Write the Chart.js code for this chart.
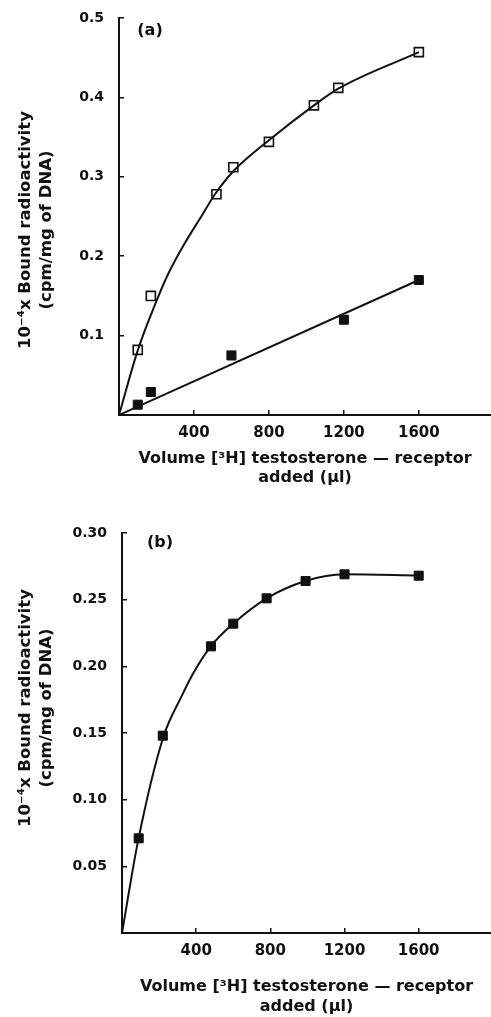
<!DOCTYPE html>
<html><head><meta charset="utf-8">
<script src="https://cdn.jsdelivr.net/npm/chart.js@4.4.0/dist/chart.umd.min.js"></script>
<style>
html,body{margin:0;padding:0;background:#fff;}
canvas{display:block;position:absolute;left:0;}
#ca{top:0;} #cb{top:500px;}
</style></head><body>
<canvas id="ca" width="491" height="500"></canvas>
<canvas id="cb" width="491" height="517"></canvas>
<script>
// ---- Panel (a) data ----
const aOpenX   = [100, 170, 520, 610, 800, 1040, 1170, 1600];
const aOpenY   = [0.082, 0.150, 0.278, 0.312, 0.344, 0.390, 0.412, 0.457];
const aFilledX = [100, 170, 600, 1200, 1600];
const aFilledY = [0.013, 0.029, 0.075, 0.120, 0.170];
// curve drawn through the open squares
const aCurveX  = [0, 101, 199, 261, 350, 439, 512, 610, 800, 1040, 1170, 1600];
const aCurveY  = [0, 0.082, 0.143, 0.177, 0.216, 0.250, 0.278, 0.307, 0.346, 0.390, 0.411, 0.457];
// straight line through the filled squares
const aLineX   = [0, 1600];
const aLineY   = [0, 0.170];
// ---- Panel (b) data ----
const bX = [90, 220, 480, 600, 780, 990, 1200, 1600];
const bY = [0.071, 0.148, 0.215, 0.232, 0.251, 0.264, 0.269, 0.268];
// curve through the (b) squares
const bCurveX = [0, 88, 223, 323, 385, 479, 600, 780, 990, 1200, 1600];
const bCurveY = [0, 0.070, 0.147, 0.178, 0.195, 0.215, 0.232, 0.251, 0.264, 0.269, 0.268];
// ---- ticks / labels ----
const xTickValues = [0, 400, 800, 1200, 1600];
const aYTickValues = [0, 0.1, 0.2, 0.3, 0.4, 0.5];
const bYTickValues = [0, 0.05, 0.10, 0.15, 0.20, 0.25, 0.30];
const xTitle = ['Volume [\u00B3H] testosterone \u2014 receptor', 'added (\u03BCl)'];
const yTitle = ['10\u207B\u2074x Bound radioactivity', '(cpm/mg of DNA)'];

const INK = '#111';
const FONT = "'DejaVu Sans', sans-serif";

function pts(xs, ys) { return xs.map((x, i) => ({x: x, y: ys[i]})); }

function annot(label, lx, ly, titleDy) {
  return {
    id: 'annot',
    afterDraw(chart) {
      const {ctx, chartArea} = chart;
      ctx.save();
      ctx.fillStyle = INK;
      ctx.font = 'bold 16px ' + FONT;
      ctx.textAlign = 'center';
      ctx.textBaseline = 'middle';
      ctx.fillText(label, chartArea.left + lx, chartArea.top + ly);
      ctx.font = 'bold 16.5px ' + FONT;
      ctx.translate(0, chartArea.top + titleDy);
      ctx.rotate(-Math.PI / 2);
      ctx.fillText(yTitle[0], 0, 26);
      ctx.fillText(yTitle[1], 0, 47);
      ctx.restore();
    }
  };
}

function makeChart(id, o) {
  return new Chart(document.getElementById(id), {
    type: 'scatter',
    data: {datasets: o.datasets},
    options: {
      responsive: false, animation: false, devicePixelRatio: 1,
      layout: {autoPadding: false, padding: {top: o.padTop, left: 0, right: 0, bottom: o.padBottom}},
      plugins: {legend: {display: false}, tooltip: {enabled: false}},
      scales: {
        x: {
          type: 'linear', position: 'bottom', min: 0, max: o.xMax,
          afterBuildTicks: s => { s.ticks = xTickValues.map(v => ({value: v})); },
          afterFit: s => { s.height = o.xHeight; s.paddingLeft = 0; s.paddingRight = 0; },
          grid: {drawOnChartArea: false, drawTicks: true, tickLength: -5, color: INK, lineWidth: 1.5},
          border: {display: true, color: INK, width: 2},
          ticks: {padding: 14, color: INK, autoSkip: false, maxRotation: 0,
                  font: {family: FONT, weight: 'bold', size: 15},
                  callback: v => v === 0 ? '' : String(v)},
          title: {display: true, text: xTitle, color: INK, padding: 0,
                  font: {family: FONT, weight: 'bold', size: 16, lineHeight: o.xTitleLH}}
        },
        y: {
          type: 'linear', min: 0, max: o.yMax,
          afterBuildTicks: s => { s.ticks = o.yTicks.map(v => ({value: v})); },
          afterFit: s => { s.width = o.yWidth; s.paddingTop = 0; s.paddingBottom = 0; },
          grid: {drawOnChartArea: false, drawTicks: true, tickLength: -5, color: INK, lineWidth: 1.5},
          border: {display: true, color: INK, width: 2},
          ticks: {padding: 20, color: INK, autoSkip: false,
                  font: {family: FONT, weight: 'bold', size: 14},
                  callback: v => v === 0 ? '' : v.toFixed(o.yDec)}
        }
      }
    },
    plugins: [annot(o.label, o.lx, o.ly, o.titleDy)]
  });
}

const lineDs = (xs, ys, mode) => ({
  data: pts(xs, ys), showLine: true, pointRadius: 0, borderColor: INK, borderWidth: 2,
  cubicInterpolationMode: mode, tension: 0, fill: false
});
const markDs = (xs, ys, filled) => ({
  data: pts(xs, ys), showLine: false, pointStyle: 'rect', pointRadius: 6.4,
  pointBackgroundColor: filled ? INK : '#fff', pointBorderColor: INK,
  pointBorderWidth: filled ? 1 : 1.6
});

makeChart('ca', {
  datasets: [
    lineDs(aCurveX, aCurveY, 'monotone'),
    lineDs(aLineX, aLineY, 'default'),
    markDs(aOpenX, aOpenY, false),
    markDs(aFilledX, aFilledY, true)
  ],
  padTop: 18, padBottom: 13, xHeight: 72, xMax: 1985, xTitleLH: 1.19,
  yMax: 0.5, yTicks: aYTickValues, yDec: 1, yWidth: 119,
  label: '(a)', lx: 31, ly: 13, titleDy: 212
});

makeChart('cb', {
  datasets: [
    lineDs(bCurveX, bCurveY, 'monotone'),
    markDs(bX, bY, true)
  ],
  padTop: 33, padBottom: 0, xHeight: 84, xMax: 1990, xTitleLH: 1.25,
  yMax: 0.30, yTicks: bYTickValues, yDec: 2, yWidth: 122,
  label: '(b)', lx: 38, ly: 10, titleDy: 175
});
</script>
</body></html>
